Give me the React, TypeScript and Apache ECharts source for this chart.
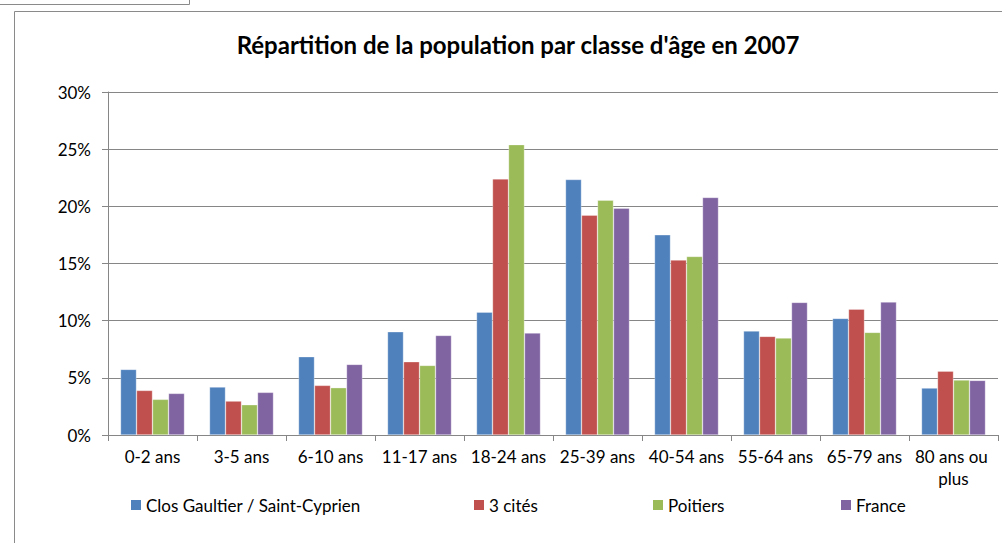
import React, { useEffect, useRef } from "react";
import * as echarts from "echarts";

const categories = ["0-2 ans", "3-5 ans", "6-10 ans", "11-17 ans", "18-24 ans", "25-39 ans", "40-54 ans", "55-64 ans", "65-79 ans", "80 ans ou plus"];
const closGaultier = [5.74, 4.2, 6.85, 9.03, 10.75, 22.35, 17.51, 9.09, 10.2, 4.11];
const troisCites = [3.9, 2.97, 4.34, 6.41, 22.4, 19.23, 15.3, 8.63, 11.01, 5.59];
const poitiers = [3.12, 2.65, 4.14, 6.09, 25.4, 20.54, 15.62, 8.48, 8.98, 4.81];
const france = [3.64, 3.73, 6.18, 8.71, 8.92, 19.84, 20.78, 11.6, 11.63, 4.78];
const seriesNames = ["Clos Gaultier / Saint-Cyprien", "3 cités", "Poitiers", "France"];
const seriesColors = ["#4F81BD", "#C0504D", "#9BBB59", "#8064A2"];
const legendLefts = [131, 474, 653, 841];
const FONT = "Lato";

export default function App() {
  const ref = useRef<HTMLDivElement>(null);
  useEffect(() => {
    document.body.style.margin = "0";
    const chart = echarts.init(ref.current!, null, { renderer: "svg" });
    const values = [closGaultier, troisCites, poitiers, france];
    chart.setOption({
      animation: false,
      backgroundColor: "#ffffff",
      title: {
        text: "Répartition de la population par classe d'âge en 2007",
        left: 513,
        top: 27,
        textAlign: "center",
        textStyle: { fontFamily: FONT, fontWeight: "bold", fontSize: 24, color: "#000000" },
      },
      legend: seriesNames.map((n, i) => ({
        data: [n],
        left: legendLefts[i],
        top: 495,
        padding: 0,
        itemWidth: 10,
        itemHeight: 10,
        icon: "rect",
        itemStyle: { borderWidth: 0 },
        textStyle: { fontFamily: FONT, fontSize: 17, color: "#000000", lineHeight: 20, padding: [0, 0, 0, 0] },
      })),
      grid: { left: 108, right: 4, top: 92, bottom: 108, containLabel: false },
      xAxis: {
        type: "category",
        data: categories,
        axisLine: { show: true, lineStyle: { color: "#868686", width: 1 } },
        axisTick: { show: true, interval: 0, length: 6, lineStyle: { color: "#868686" } },
        axisLabel: {
          interval: 0,
          margin: 10,
          fontFamily: FONT,
          fontSize: 17,
          color: "#000000",
          lineHeight: 22,
          width: 86,
          overflow: "break",
        },
      },
      yAxis: {
        type: "value",
        min: 0,
        max: 30,
        interval: 5,
        axisLine: { show: true, lineStyle: { color: "#868686", width: 1 } },
        axisTick: { show: true, length: 6, lineStyle: { color: "#868686" } },
        axisLabel: { formatter: "{value}%", margin: 17, fontFamily: FONT, fontSize: 17, color: "#000000" },
        splitLine: { show: true, lineStyle: { color: "#868686", width: 1 } },
      },
      series: seriesNames.map((n, i) => ({
        name: n,
        type: "bar",
        data: values[i],
        barWidth: 16,
        barGap: "0%",
        itemStyle: { color: seriesColors[i], borderColor: "rgba(255,255,255,0.5)", borderWidth: 0.6 },
      })),
      graphic: [
        { type: "rect", shape: { x: 14.5, y: 11.5, width: 1200, height: 800 }, style: { fill: "none", stroke: "#8a8a8a", lineWidth: 1 }, silent: true, z: 100 },
        { type: "polyline", shape: { points: [[-2, 4.5], [189.5, 4.5], [189.5, -2]] }, style: { fill: "none", stroke: "#8a8a8a", lineWidth: 1 }, silent: true, z: 100 },
      ],
    });
    return () => chart.dispose();
  }, []);
  return <div ref={ref} style={{ position: "absolute", left: 0, top: 0, width: 1002, height: 543 }} />;
}
